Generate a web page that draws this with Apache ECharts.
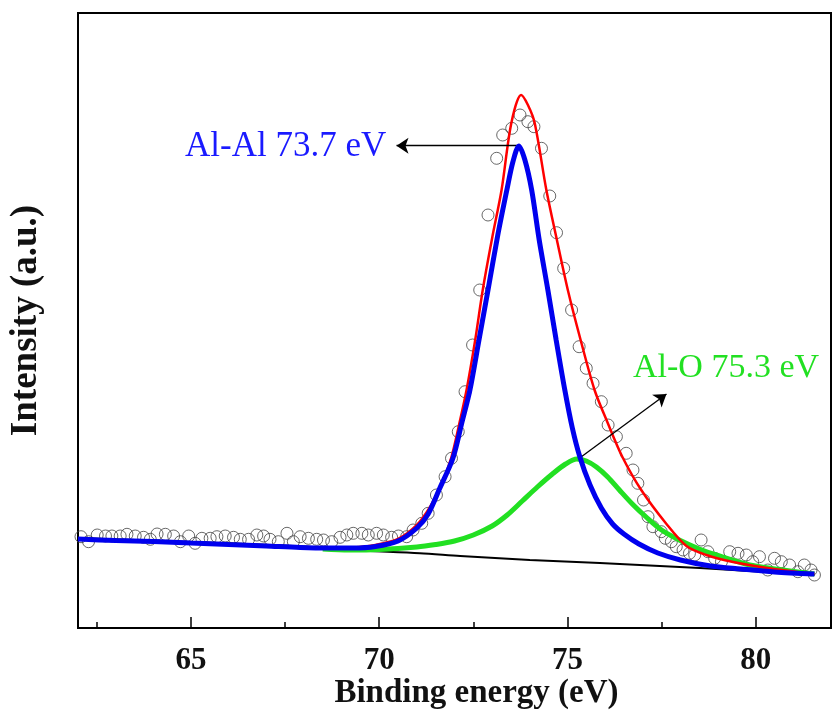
<!DOCTYPE html>
<html>
<head>
<meta charset="utf-8">
<script src="https://cdn.jsdelivr.net/npm/echarts@6/dist/echarts.min.js"></script>
<style>html,body{margin:0;padding:0;background:#fff;}#c{width:833px;height:711px;}</style>
</head>
<body>
<div id="c"></div>
<script>
// Observed XPS data (open circles)
const obsEnergy = [62.08,62.28,62.51,62.73,62.90,63.12,63.30,63.52,63.74,63.92,64.10,64.32,64.54,64.72,64.94,65.11,65.29,65.51,65.69,65.91,66.13,66.31,66.53,66.75,66.93,67.10,67.32,67.55,67.72,67.90,68.12,68.34,68.52,68.74,68.96,69.14,69.31,69.54,69.71,69.93,70.11,70.33,70.51,70.73,70.90,71.13,71.30,71.52,71.75,71.92,72.10,72.28,72.48,72.67,72.89,73.12,73.28,73.52,73.74,73.95,74.11,74.31,74.53,74.71,74.90,75.11,75.31,75.50,75.68,75.90,76.08,76.30,76.56,76.74,76.87,77.02,77.14,77.27,77.49,77.60,77.76,77.89,78.07,78.24,78.38,78.55,78.73,78.91,79.09,79.31,79.53,79.75,79.92,80.10,80.32,80.50,80.68,80.90,81.12,81.29,81.47,81.56];
const obsIntensity = [91.3,86.3,93,92,92,92,93.7,92,90.7,88.7,94,93.7,92,86.3,92,84.7,89.7,89.7,91.3,92,90.7,88.7,88.7,93,92,88.7,86.3,94.7,86.3,91.3,89.7,88.7,88,86.3,90.7,93,94.7,94.7,93,94.7,93,90.7,92,91.3,98,104.7,114.7,133,151.3,169.7,196.3,236.3,283,338,413,469.7,493,499.7,513,506.3,501.3,479.7,432,395.3,359.7,318,281.3,259.7,244.7,226.3,203,191.3,174.7,158,144.7,128,111.3,101.3,96.3,89.7,86.3,81.3,78,74.7,73,88,76.3,69.7,66.3,76.3,74.7,73,66.3,71.3,58,69.7,66.3,63,56.3,63,58,53];

// Envelope fit (red)
const fitEnergy = [62.0,63.0,64.0,65.0,66.0,67.0,67.9,68.7,69.3,69.9,70.5,71.0,71.35,71.65,71.92,72.12,72.32,72.55,72.75,73.0,73.25,73.51,73.77,73.95,74.13,74.44,74.72,75.01,75.35,75.72,76.07,76.46,76.96,77.63,78.16,78.69,79.4,80.3,81.56];
const fitIntensity = [89,87.5,86.5,85,83.5,82,80.5,80,80.5,83,89,103,121,143,171,203,238,288,338,390,438,505,533,523,505,438,388,338,288,238,205,171,138,104,82,73,66,60,54];

// Al-Al component (blue)
const alEnergy = [62.0,63.0,64.0,65.0,66.0,67.0,67.9,68.7,69.3,69.9,70.5,71.0,71.3,71.6,71.96,72.2,72.41,72.65,72.89,73.15,73.39,73.55,73.71,73.87,74.05,74.25,74.48,74.7,74.93,75.13,75.33,75.6,75.9,76.2,76.5,76.9,77.4,78.0,78.8,79.6,80.5,81.56];
const alIntensity = [89,87.5,86.5,85,83.5,82,80.5,80,80,81.5,87,100,114,139,170,206,238,288,338,393,438,466,482,468,438,388,338,288,238,200,171,143,120,104,94,84,75,68,62,59,56,54];

// Al-O component (green)
const aloEnergy = [68.5,69.2,70.0,71.0,71.5,72.0,72.5,73.0,73.4,73.8,74.2,74.6,74.95,75.25,75.5,75.77,76.07,76.38,76.75,77.09,77.5,77.97,78.5,78.95,79.84,80.72,81.56];
const aloIntensity = [79,78,78.5,81,83.5,87,93,102,113,127,141,154,164,169,167,161,151,138,123,111,98,88,79,73,63,58,54];

// Background (black)
const bgEnergy = [62.0,65.0,68.0,69.23,71.08,72.15,74.0,75.86,78.51,81.56];
const bgIntensity = [90,86,81.5,78,74.7,72,68,65,60,53];

// Axis ticks
const majorTicks = [65,70,75,80];
const minorTicks = [62.5,67.5,72.5,77.5];

// Annotation arrows (data coordinates)
const alArrow = [[73.68,482.3],[70.46,482.3]];
const aloArrow = [[75.37,171.3],[77.63,234]];

const zip = (a,b) => a.map((v,i)=>[v,b[i]]);
const serif = '"Liberation Serif","Times New Roman",serif';

const chart = echarts.init(document.getElementById('c'), null, {renderer:'canvas'});
chart.setOption({
  animation:false,
  backgroundColor:'#fff',
  grid:{left:78,right:2,top:13,bottom:83,show:true,borderColor:'#000',borderWidth:2,containLabel:false,outerBoundsMode:'none'},
  xAxis:[{
    type:'value',min:62,max:82,
    splitLine:{show:false},
    axisLine:{show:true,lineStyle:{color:'#000',width:2}},
    axisTick:{show:true,inside:true,length:11,lineStyle:{color:'#000',width:1.5},customValues:majorTicks},
    axisLabel:{show:true,customValues:majorTicks,margin:17,fontFamily:serif,fontWeight:'bold',fontSize:31,color:'#111'},
    name:'Binding energy (eV)',nameLocation:'middle',nameGap:49,nameMoveOverlap:false,
    nameTextStyle:{fontFamily:serif,fontWeight:'bold',fontSize:33,color:'#111',padding:[0,0,0,44]}
  },{
    type:'value',min:62,max:82,position:'bottom',
    splitLine:{show:false},
    axisLine:{show:false},
    axisTick:{show:true,inside:true,length:6,lineStyle:{color:'#000',width:1.5},customValues:minorTicks},
    axisLabel:{show:false}
  }],
  yAxis:{
    type:'value',min:0,max:615,
    splitLine:{show:false},
    axisLine:{show:true,lineStyle:{color:'#000',width:2}},
    axisTick:{show:false},axisLabel:{show:false},
    name:'Intensity (a.u.)',nameLocation:'middle',nameGap:33,nameRotate:90,
    nameTextStyle:{fontFamily:serif,fontWeight:'bold',fontSize:37,color:'#111'}
  },
  series:[
    {type:'scatter',data:zip(obsEnergy,obsIntensity),symbol:'circle',symbolSize:12,
     itemStyle:{color:'rgba(255,255,255,0)',borderColor:'#444',borderWidth:1},z:1},
    {type:'line',data:zip(bgEnergy,bgIntensity),showSymbol:false,smooth:0.3,
     lineStyle:{color:'#000',width:2},z:2},
    {type:'line',data:zip(aloEnergy,aloIntensity),showSymbol:false,smooth:0.3,
     lineStyle:{color:'#22e022',width:5},z:3,
     markLine:{silent:true,symbol:['none','arrow'],symbolSize:12,animation:false,
       lineStyle:{color:'#000',width:1.3,type:'solid'},label:{show:false},
       data:[[{coord:aloArrow[0]},{coord:aloArrow[1]}]]}},
    {type:'line',data:zip(fitEnergy,fitIntensity),showSymbol:false,smooth:0.3,
     lineStyle:{color:'#ff0000',width:2.5},z:4},
    {type:'line',data:zip(alEnergy,alIntensity),showSymbol:false,smooth:0.3,
     lineStyle:{color:'#0000ee',width:5},z:5,
     markLine:{silent:true,symbol:['none','arrow'],symbolSize:12,animation:false,
       lineStyle:{color:'#000',width:1.3,type:'solid'},label:{show:false},
       data:[[{coord:alArrow[0]},{coord:alArrow[1]}]]}}
  ],
  graphic:[
    {type:'text',left:185,top:129,style:{text:'Al-Al 73.7 eV',font:'35px '+serif,fill:'#1a1aff'}},
    {type:'text',left:633,top:351,style:{text:'Al-O 75.3 eV',font:'34px '+serif,fill:'#22e022'}}
  ]
});
</script>
</body>
</html>
